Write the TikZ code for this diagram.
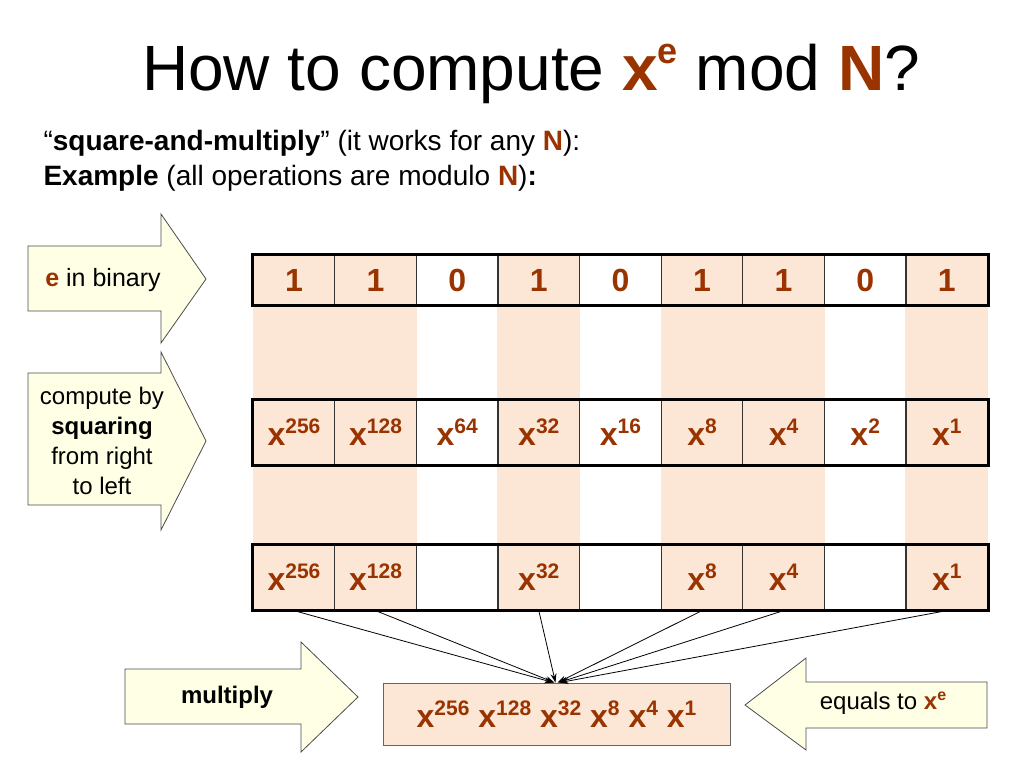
\documentclass[tikz,border=0pt]{standalone}
\usepackage{fontspec}
\setmainfont{Liberation Sans}
\usetikzlibrary{arrows.meta,backgrounds}
\definecolor{rust}{RGB}{153,51,0}
\definecolor{peach}{RGB}{252,230,214}
\definecolor{cream}{RGB}{255,255,230}
\newcommand{\xpow}[1]{x\raisebox{12pt}{\fontsize{21}{21}\selectfont #1}}
\begin{document}
\begin{tikzpicture}[x=1pt, y=-1pt]
    \tikzset{
      cell/.style={draw=black!80, line width=1.2pt, minimum width=81.6pt, inner sep=0pt,
                   text=rust, font=\fontsize{32}{32}\selectfont\bfseries},
      bitcell/.style={cell, minimum height=50pt},
      powcell/.style={cell, minimum height=65pt},
      frame/.style={line width=3pt},
      blockarrow/.style={draw=black!70, line width=0.8pt, fill=cream},
      small text/.style={font=\fontsize{24}{30}\selectfont},
      link/.style={line width=0.8pt, -{Stealth[length=9pt,width=6pt]}}
    }
    \useasboundingbox (0,0) rectangle (1024,768);

    % Title and intro lines
    \node[anchor=base, font=\fontsize{64}{70}\selectfont] (title) at (531,90)
      {How to compute {\color{rust}\bfseries x\raisebox{27pt}{\fontsize{36}{36}\selectfont e}} mod {\color{rust}\bfseries N}?};
    \node[anchor=base west, font=\fontsize{28}{34}\selectfont] (intro) at (40,150)
      {``\textbf{square-and-multiply}'' (it works for any \textbf{\color{rust}N}):};
    \node[anchor=base west, font=\fontsize{28}{34}\selectfont] (example) at (40,185)
      {\textbf{Example} (all operations are modulo \textbf{\color{rust}N})\textbf{:}};

    % Row 1 - bits of e
    \node[bitcell] (b1) at (294,280) {1};
    \node[bitcell] (b2) at (375.6,280) {1};
    \node[bitcell] (b3) at (457.2,280) {0};
    \node[bitcell] (b4) at (538.8,280) {1};
    \node[bitcell] (b5) at (620.4,280) {0};
    \node[bitcell] (b6) at (702,280) {1};
    \node[bitcell] (b7) at (783.6,280) {1};
    \node[bitcell] (b8) at (865.2,280) {0};
    \node[bitcell] (b9) at (946.8,280) {1};
    \draw[frame] (b1.north west) rectangle (b9.south east);

    % Row 2 - powers by squaring
    \node[powcell] (s1) at (294,432.5) {\xpow{256}};
    \node[powcell] (s2) at (375.6,432.5) {\xpow{128}};
    \node[powcell] (s3) at (457.2,432.5) {\xpow{64}};
    \node[powcell] (s4) at (538.8,432.5) {\xpow{32}};
    \node[powcell] (s5) at (620.4,432.5) {\xpow{16}};
    \node[powcell] (s6) at (702,432.5) {\xpow{8}};
    \node[powcell] (s7) at (783.6,432.5) {\xpow{4}};
    \node[powcell] (s8) at (865.2,432.5) {\xpow{2}};
    \node[powcell] (s9) at (946.8,432.5) {\xpow{1}};
    \draw[frame] (s1.north west) rectangle (s9.south east);

    % Row 3 - powers kept where the bit is 1
    \node[powcell] (m1) at (294,577.5) {\xpow{256}};
    \node[powcell] (m2) at (375.6,577.5) {\xpow{128}};
    \node[powcell] (m3) at (457.2,577.5) {};
    \node[powcell] (m4) at (538.8,577.5) {\xpow{32}};
    \node[powcell] (m5) at (620.4,577.5) {};
    \node[powcell] (m6) at (702,577.5) {\xpow{8}};
    \node[powcell] (m7) at (783.6,577.5) {\xpow{4}};
    \node[powcell] (m8) at (865.2,577.5) {};
    \node[powcell] (m9) at (946.8,577.5) {\xpow{1}};
    \draw[frame] (m1.north west) rectangle (m9.south east);

    % Shaded columns for the 1 bits
    \begin{scope}[on background layer]
      \fill[peach] (b1.north west) rectangle (m2.south east);
      \fill[peach] (b4.north west) rectangle (m4.south east);
      \fill[peach] (b6.north west) rectangle (m7.south east);
      \fill[peach] (b9.north west) rectangle (m9.south east);
    \end{scope}

    % Product box and the lines into it
    \node[draw=black!60, line width=0.8pt, fill=peach, minimum width=347pt, minimum height=62pt,
          text=rust, font=\fontsize{32}{32}\selectfont\bfseries] (prod) at (556.5,714)
      {\xpow{256} \xpow{128} \xpow{32} \xpow{8} \xpow{4} \xpow{1}};
    \draw[link] (m1.south) -- ([xshift=-3pt]prod.north);
    \draw[link] (m2.south) -- ([xshift=-2pt]prod.north);
    \draw[link] (m4.south) -- ([xshift=-1pt]prod.north);
    \draw[link] (m6.south) -- ([xshift=1pt]prod.north);
    \draw[link] (m7.south) -- ([xshift=2pt]prod.north);
    \draw[link] (m9.south) -- ([xshift=3pt]prod.north);

    % Block arrow: e in binary
    \draw[blockarrow] (28,246) -- (161,246) -- (161,214) -- (206,279) -- (161,343) -- (161,311) -- (28,311) -- cycle;
    \node[small text, font=\fontsize{25}{30}\selectfont] (binary) at (103,280) {{\color{rust}\bfseries e} in binary};

    % Block arrow: compute by squaring
    \draw[blockarrow] (28,373) -- (161,373) -- (161,352) -- (206,441) -- (161,530) -- (161,505) -- (28,505) -- cycle;
    \node[small text, align=center] (squaring) at (102,441) {compute by\\\textbf{squaring}\\from right\\to left};

    % Block arrow: multiply
    \draw[blockarrow] (125,669) -- (301,669) -- (301,642) -- (358,697) -- (301,752) -- (301,724) -- (125,724) -- cycle;
    \node[small text, font=\fontsize{24}{30}\selectfont\bfseries] (mult) at (227,697) {multiply};

    % Block arrow: equals to x^e
    \draw[blockarrow] (745,705) -- (806,658) -- (806,682) -- (987,682) -- (987,728) -- (806,728) -- (806,750) -- cycle;
    \node[small text] (equals) at (883,703)
      {equals to {\color{rust}\bfseries x\raisebox{9pt}{\fontsize{16}{16}\selectfont e}}};

\end{tikzpicture}
\end{document}
